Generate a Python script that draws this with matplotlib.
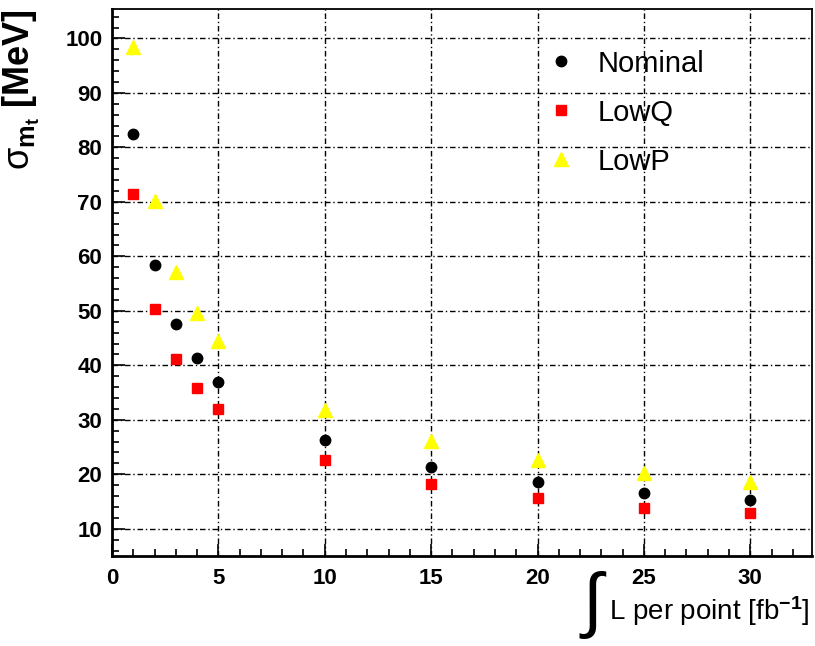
import matplotlib
matplotlib.use('Agg')
import matplotlib.pyplot as plt
from matplotlib.ticker import MultipleLocator

# integrated luminosity per point [fb^-1]
lumi = [1, 2, 3, 4, 5, 10, 15, 20, 25, 30]

# sigma(m_t) [MeV]
nominal = [82.4, 58.4, 47.6, 41.3, 37.0, 26.2, 21.3, 18.5, 16.6, 15.3]
lowq    = [71.5, 50.4, 41.2, 35.8, 31.9, 22.6, 18.3, 15.7, 13.9, 12.9]
lowp    = [98.4, 70.1, 57.2, 49.6, 44.5, 31.8, 26.1, 22.7, 20.3, 18.6]

xticks = [0, 5, 10, 15, 20, 25, 30]
yticks = [10, 20, 30, 40, 50, 60, 70, 80, 90, 100]

plt.rcParams['font.family'] = ['Liberation Sans', 'DejaVu Sans']
plt.rcParams['mathtext.fontset'] = 'custom'
plt.rcParams['mathtext.rm'] = 'Liberation Sans'
plt.rcParams['mathtext.it'] = 'Liberation Sans'
plt.rcParams['mathtext.bf'] = 'Liberation Sans:bold'

fig = plt.figure(figsize=(8.15, 6.46), dpi=100)
ax = fig.add_axes([112/815, 90/646, 700/815, 547/646])

ax.plot(lumi, nominal, 'o', color='black', markersize=7.5, label='Nominal', zorder=3)
ax.plot(lumi, lowq, 's', color='#ff0000', markersize=7, label='LowQ', zorder=3)
ax.plot(lumi, lowp, '^', color='#ffff00', markersize=9.5, label='LowP', zorder=3)

ax.set_xlim(0, 32.9)
ax.set_ylim(5, 105.4)
ax.set_xticks(xticks)
ax.set_yticks(yticks)
ax.xaxis.set_minor_locator(MultipleLocator(1))
ax.yaxis.set_minor_locator(MultipleLocator(2))

ax.tick_params(which='both', direction='in', top=False, right=False, width=1.2)
ax.tick_params(which='major', length=9)
ax.tick_params(which='minor', length=5)
ax.tick_params(axis='x', which='major', pad=9)
ax.tick_params(axis='y', which='major', pad=7)
for lab in ax.get_xticklabels() + ax.get_yticklabels():
    lab.set_fontsize(16)
    lab.set_fontweight('bold')

ax.grid(True, which='major', color='black', linestyle=(0, (4, 2, 1, 2)), linewidth=1.0)
ax.set_axisbelow(True)

for side in ['left', 'bottom']:
    ax.spines[side].set_linewidth(2.0)
for side in ['top', 'right']:
    ax.spines[side].set_linewidth(1.3)

ax.set_ylabel(r'$\sigma_{\mathbf{m_t}}$ [MeV]', fontsize=26, fontweight='bold', loc='top')
ax.yaxis.set_label_coords(-0.10, 1.0)
ax.set_xlabel(r'L per point [fb$^{\mathbf{-1}}$]', fontsize=20, loc='right')
ax.xaxis.set_label_coords(0.997, -0.07)
# large integral sign in front of the x title
fig.text(592/815, 1 - 605/646, '\u222b', fontsize=52, family='Liberation Sans',
         ha='center', va='center')

leg = ax.legend(loc='upper left', bbox_to_anchor=(535/815, 1 - 38/646),
                bbox_transform=fig.transFigure, frameon=False, fontsize=21,
                handletextpad=0.75, labelspacing=0.72, handlelength=1.0,
                borderaxespad=0)

fig.savefig('out.png', dpi=100)
